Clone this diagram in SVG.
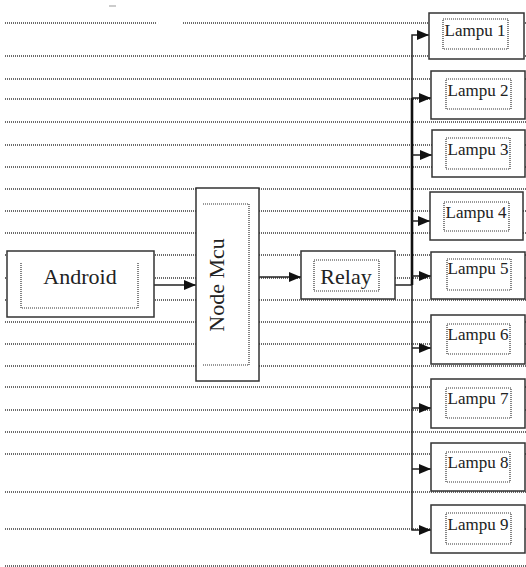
<svg xmlns="http://www.w3.org/2000/svg" width="526" height="567" viewBox="0 0 526 567">
<style>
.bg{stroke:#6a6a6a;stroke-width:2;stroke-dasharray:1 1;fill:none}
.box{fill:#fff;stroke:#333;stroke-width:1.5}
.in{fill:none;stroke:#333;stroke-width:1.2;stroke-dasharray:1 1}
.t{font-family:"Liberation Serif","Times New Roman",serif;fill:#222;text-anchor:middle}
.big{font-size:22px}
.sm{font-size:17px}
.c{fill:none;stroke:#222;stroke-width:1.5}
</style>
<defs>
<marker id="ah" markerUnits="userSpaceOnUse" markerWidth="12" markerHeight="10" refX="12" refY="5" orient="auto"><path d="M0,0 L12,5 L0,10 z" fill="#111"/></marker>
<marker id="ahb" markerUnits="userSpaceOnUse" markerWidth="12" markerHeight="10" refX="12" refY="5" orient="auto"><path d="M0,0 L12,5 L0,10 z" fill="#111"/></marker>
</defs>
<rect width="526" height="567" fill="#fff"/>
<g id="background-lines">
<path class="bg" d="M5,23H157M183,23H526"/>
<path class="bg" d="M5,56H526M5,79H526M5,99H526M5,122H526M5,145H526M5,167H526M5,189H526M5,211H526M5,233H526M5,255H526M5,278H526M5,300H526M5,322H526M5,344H526M5,366H526M5,387H526M5,410H526M5,432H526M5,454H526M5,492H526M5,529H526M5,566H526"/>
<path d="M109,6H116" stroke="#999" stroke-width="1"/>
</g>
<g id="connectors">
<path class="c" d="M154,285H196" marker-end="url(#ahb)"/>
<path class="c" d="M259,277H301" marker-end="url(#ahb)"/>
<path class="c" d="M395,285H412"/>
<path d="M412,98V285" stroke="#111" stroke-width="2.6" fill="none"/>
<path class="c" d="M412,98V35H429" marker-end="url(#ah)"/>
<path class="c" d="M412,285V530H431" marker-end="url(#ah)"/>
<path class="c" d="M412,98H431" marker-end="url(#ah)"/>
<path class="c" d="M412,155H432" marker-end="url(#ah)"/>
<path class="c" d="M412,221H430" marker-end="url(#ah)"/>
<path class="c" d="M412,276H431" marker-end="url(#ah)"/>
<path class="c" d="M412,348H431" marker-end="url(#ah)"/>
<path class="c" d="M412,408H431" marker-end="url(#ah)"/>
<path class="c" d="M412,469H431" marker-end="url(#ah)"/>
</g>
<g id="android">
<rect class="box" x="7" y="251" width="147" height="66"/>
<path class="in" d="M21,263V308H138V262"/>
<text class="t big" x="80" y="284">Android</text>
</g>
<g id="nodemcu">
<rect class="box" x="196" y="188" width="63" height="193"/>
<path class="in" d="M203,204H249V365H203"/>
<text class="t big" transform="translate(224,285) rotate(-90)">Node Mcu</text>
</g>
<g id="relay">
<rect class="box" x="301" y="251" width="94" height="48"/>
<rect class="in" x="314" y="260" width="65" height="31"/>
<text class="t big" x="346" y="284">Relay</text>
</g>
<g id="lampu1">
<rect class="box" x="429" y="13" width="95" height="46"/>
<rect class="in" x="443" y="19" width="65" height="30"/>
<text class="t sm" x="475" y="36">Lampu 1</text>
</g>
<g id="lampu2">
<rect class="box" x="431" y="71" width="94" height="48"/>
<rect class="in" x="446" y="79" width="65" height="30"/>
<text class="t sm" x="478" y="96">Lampu 2</text>
</g>
<g id="lampu3">
<rect class="box" x="432" y="130" width="93" height="47"/>
<rect class="in" x="446" y="138" width="64" height="31"/>
<text class="t sm" x="478" y="155">Lampu 3</text>
</g>
<g id="lampu4">
<rect class="box" x="430" y="192" width="93" height="48"/>
<rect class="in" x="444" y="202" width="65" height="29"/>
<text class="t sm" x="476" y="218">Lampu 4</text>
</g>
<g id="lampu5">
<rect class="box" x="431" y="252" width="94" height="47"/>
<rect class="in" x="447" y="259" width="64" height="31"/>
<text class="t sm" x="478" y="274">Lampu 5</text>
</g>
<g id="lampu6">
<rect class="box" x="431" y="315" width="94" height="49"/>
<rect class="in" x="447" y="324" width="63" height="30"/>
<text class="t sm" x="478" y="340">Lampu 6</text>
</g>
<g id="lampu7">
<rect class="box" x="431" y="379" width="94" height="49"/>
<rect class="in" x="446" y="388" width="65" height="30"/>
<text class="t sm" x="478" y="404">Lampu 7</text>
</g>
<g id="lampu8">
<rect class="box" x="431" y="443" width="94" height="48"/>
<rect class="in" x="446" y="452" width="64" height="30"/>
<text class="t sm" x="478" y="468">Lampu 8</text>
</g>
<g id="lampu9">
<rect class="box" x="431" y="505" width="94" height="48"/>
<rect class="in" x="446" y="513" width="65" height="31"/>
<text class="t sm" x="478" y="530">Lampu 9</text>
</g>
</svg>
